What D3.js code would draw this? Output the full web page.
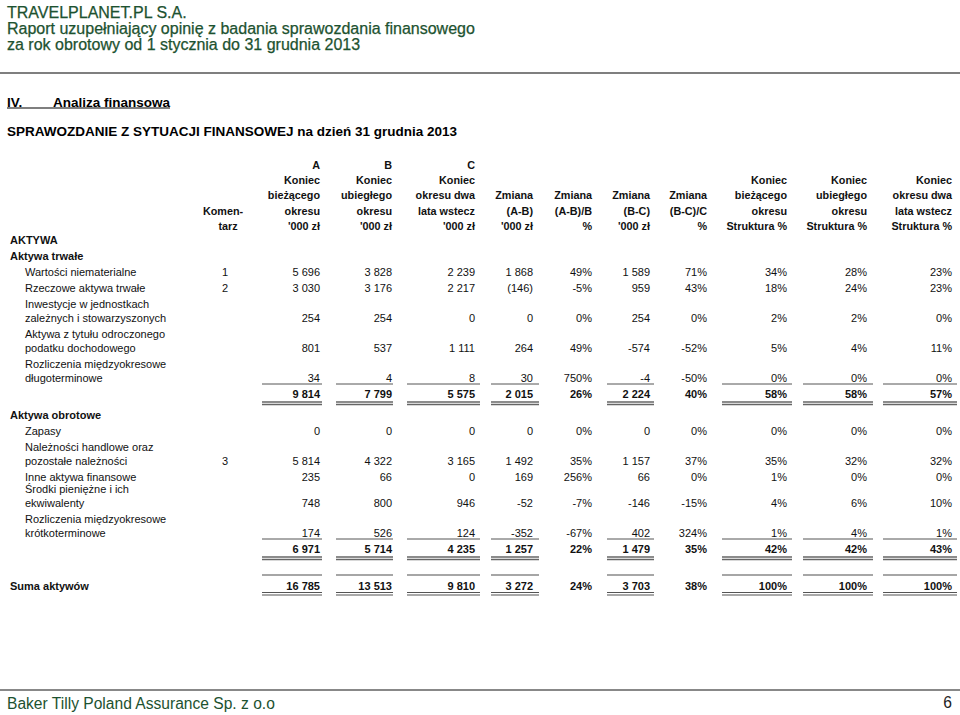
<!DOCTYPE html>
<html>
<head>
<meta charset="utf-8">
<script src="https://cdn.jsdelivr.net/npm/d3@7"></script>
<style>
  body { margin: 0; background: #fff; }
  svg { display: block; font-family: Arial, "Liberation Sans", sans-serif; }
</style>
</head>
<body>
<div id="chart"></div>
<script>
// ---- data ----
const rowLabels = [
  "AKTYWA",
  "Aktywa trwałe",
  "Wartości niematerialne",
  "Rzeczowe aktywa trwałe",
  "Inwestycje w jednostkach\nzależnych i stowarzyszonych",
  "Aktywa z tytułu odroczonego\npodatku dochodowego",
  "Rozliczenia międzyokresowe\ndługoterminowe",
  "",
  "Aktywa obrotowe",
  "Zapasy",
  "Należności handlowe oraz\npozostałe należności",
  "Inne aktywa finansowe",
  "Środki pieniężne i ich\nekwiwalenty",
  "Rozliczenia międzyokresowe\nkrótkoterminowe",
  "",
  "Suma aktywów"
];
const rowKinds = ["head","group","item","item","item","item","last","subtotal",
                  "group","item","item","item","item","last","subtotal","total"];
const comments = ["","","1","2","","","","","","","3","","","","",""];

const colA  = [null,null,5696,3030,254,801,34,9814,null,0,5814,235,748,174,6971,16785];
const colB  = [null,null,3828,3176,254,537,4,7799,null,0,4322,66,800,526,5714,13513];
const colC  = [null,null,2239,2217,0,1111,8,5575,null,0,3165,0,946,124,4235,9810];
const chgAB = [null,null,1868,-146,0,264,30,2015,null,0,1492,169,-52,-352,1257,3272];
const pctAB = [null,null,49,-5,0,49,750,26,null,0,35,256,-7,-67,22,24];
const chgBC = [null,null,1589,959,254,-574,-4,2224,null,0,1157,66,-146,402,1479,3703];
const pctBC = [null,null,71,43,0,-52,-50,40,null,0,37,0,-15,324,35,38];
const strA  = [null,null,34,18,2,5,0,58,null,0,35,1,4,1,42,100];
const strB  = [null,null,28,24,2,4,0,58,null,0,32,0,6,4,42,100];
const strC  = [null,null,23,23,0,11,0,57,null,0,32,0,10,1,43,100];
// negatives printed in brackets in the source
const bracketNegatives = ["Rzeczowe aktywa trwałe"];

const colKeys = ["A","B","C","AB","pAB","BC","pBC","SA","SB","SC"];
const colValues = {A: colA, B: colB, C: colC, AB: chgAB, pAB: pctAB, BC: chgBC, pBC: pctBC, SA: strA, SB: strB, SC: strC};
const colIsPct = {pAB: true, pBC: true, SA: true, SB: true, SC: true};
const colHeaders = {
  A:   ["A","Koniec","bieżącego","okresu","'000 zł"],
  B:   ["B","Koniec","ubiegłego","okresu","'000 zł"],
  C:   ["C","Koniec","okresu dwa","lata wstecz","'000 zł"],
  AB:  ["Zmiana","(A-B)","'000 zł"],
  pAB: ["Zmiana","(A-B)/B","%"],
  BC:  ["Zmiana","(B-C)","'000 zł"],
  pBC: ["Zmiana","(B-C)/C","%"],
  SA:  ["Koniec","bieżącego","okresu","Struktura %"],
  SB:  ["Koniec","ubiegłego","okresu","Struktura %"],
  SC:  ["Koniec","okresu dwa","lata wstecz","Struktura %"]
};
const commentHeader = ["Komen-","tarz"];
const titleLines = ["TRAVELPLANET.PL S.A.",
  "Raport uzupełniający opinię z badania sprawozdania finansowego",
  "za rok obrotowy od 1 stycznia do 31 grudnia 2013"];

// ---- layout ----
const width = 960, height = 715;
const green = "#1d5230";
const colRight = d3.scaleOrdinal().domain(colKeys)
  .range([320, 392, 475, 533, 592, 650, 707, 787, 867, 952]);
// rule spans under the amount columns
const ruleSpan = {A:[262,322], B:[336,393], C:[407,480], AB:[491,539], BC:[607,654],
                  SA:[722,792], SB:[803,873], SC:[883,957]};
const yHead = d3.scaleLinear().domain([0, 4]).range([165, 226]);
const commentX = 225;

const loc = d3.formatLocale({decimal: ",", thousands: " ", grouping: [3], currency: ["", ""], minus: "-"});
const fmtInt = loc.format(",d");

const svg = d3.select("#chart").append("svg")
  .attr("width", width).attr("height", height);

// page header
svg.append("g").selectAll("text").data(titleLines).join("text")
  .attr("x", 7).attr("y", (d, i) => 12 + i * 16)
  .attr("dy", "0.35em")
  .attr("fill", green).attr("font-size", 16)
  .attr("stroke", green).attr("stroke-width", 0.25)
  .text(d => d);

svg.append("line").attr("x1", 0).attr("x2", width).attr("y1", 73).attr("y2", 73)
  .attr("stroke", "#555").attr("stroke-width", 1.5);

svg.append("text").attr("x", 7).attr("y", 102).attr("dy", "0.35em")
  .attr("font-size", 13.5).attr("font-weight", "bold").text("IV.");
svg.append("text").attr("x", 53).attr("y", 102).attr("dy", "0.35em")
  .attr("font-size", 13.5).attr("font-weight", "bold").text("Analiza finansowa");
svg.append("line").attr("x1", 7).attr("x2", 170).attr("y1", 108).attr("y2", 108)
  .attr("stroke", "#000").attr("stroke-width", 1.2);

svg.append("text").attr("x", 7).attr("y", 131).attr("dy", "0.35em")
  .attr("font-size", 13.5).attr("font-weight", "bold")
  .text("SPRAWOZDANIE Z SYTUACJI FINANSOWEJ na dzień 31 grudnia 2013");

// column headers (bottom aligned)
const head = svg.append("g").attr("font-size", 10.8).attr("font-weight", "bold")
  .attr("fill", "#111");
colKeys.forEach(k => {
  const lines = colHeaders[k];
  head.append("g").selectAll("text").data(lines).join("text")
    .attr("x", colRight(k))
    .attr("y", (d, i) => yHead(5 - lines.length + i))
    .attr("dy", "0.35em").attr("text-anchor", "end")
    .text(d => d);
});
head.append("g").selectAll("text").data(commentHeader).join("text")
  .attr("x", (d, i) => commentX - 2 + i * 5)
  .attr("y", (d, i) => yHead(3 + i))
  .attr("dy", "0.35em").attr("text-anchor", "middle")
  .text(d => d);

// body rows
const gapOverride = {12: 12};
let cy = 240;
const rows = rowLabels.map((label, i) => {
  const kind = rowKinds[i];
  if (i > 0) {
    let gap = 16;
    if (kind === "group" && rowKinds[i - 1] === "subtotal") gap = 21;
    if (kind === "total") gap = 37;
    if (gapOverride[i] != null) gap = gapOverride[i];
    cy += gap;
  }
  const lines = label ? label.split("\n") : [];
  const top = cy;
  cy += Math.max(0, lines.length - 1) * 14;
  return {label, kind, lines, top, y: cy, comment: comments[i], index: i};
});

const body = svg.append("g").attr("font-size", 11).attr("fill", "#111");

rows.forEach(r => {
  const bold = r.kind === "head" || r.kind === "group" || r.kind === "subtotal" || r.kind === "total";
  const labelX = (r.kind === "item" || r.kind === "last") ? 25 : 10;
  const g = body.append("g").attr("font-weight", bold ? "bold" : "normal");

  g.selectAll("text.lbl").data(r.lines).join("text").attr("class", "lbl")
    .attr("x", labelX).attr("y", (d, j) => r.top + j * 14).attr("dy", "0.35em")
    .text(d => d);

  if (r.comment) {
    g.append("text").attr("x", commentX).attr("y", r.y).attr("dy", "0.35em")
      .attr("text-anchor", "middle").text(r.comment);
  }

  colKeys.forEach(k => {
    const v = colValues[k][r.index];
    if (v == null) return;
    let s;
    if (colIsPct[k]) s = v + "%";
    else if (v < 0 && bracketNegatives.includes(r.label)) s = "(" + fmtInt(-v) + ")";
    else s = fmtInt(v);
    g.append("text").attr("x", colRight(k)).attr("y", r.y).attr("dy", "0.35em")
      .attr("text-anchor", "end").text(s);
  });

  // rules
  const spans = Object.keys(ruleSpan);
  const rule = (yy, w, c) => g.append("g").selectAll("line").data(spans).join("line")
    .attr("x1", k => ruleSpan[k][0]).attr("x2", k => ruleSpan[k][1])
    .attr("y1", yy).attr("y2", yy).attr("stroke", c).attr("stroke-width", w);
  if (r.kind === "last") rule(r.y + 6, 1, "#555");
  if (r.kind === "subtotal") { rule(r.y + 8, 1.3, "#666"); rule(r.y + 10.5, 1.3, "#666"); }
  if (r.kind === "total") { rule(r.y - 11, 1.6, "#888"); rule(r.y + 6.5, 1.2, "#555"); rule(r.y + 9, 1.2, "#555"); }
});

// footer
svg.append("line").attr("x1", 0).attr("x2", width).attr("y1", 690).attr("y2", 690)
  .attr("stroke", "#888").attr("stroke-width", 2);
svg.append("text").attr("x", 7).attr("y", 704).attr("dy", "0.35em")
  .attr("font-size", 15.6).attr("fill", green)
  .text("Baker Tilly Poland Assurance Sp. z o.o");
svg.append("text").attr("x", 952).attr("y", 703).attr("dy", "0.35em")
  .attr("text-anchor", "end").attr("font-size", 15.6).attr("fill", "#222")
  .text("6");
</script>
</body>
</html>
